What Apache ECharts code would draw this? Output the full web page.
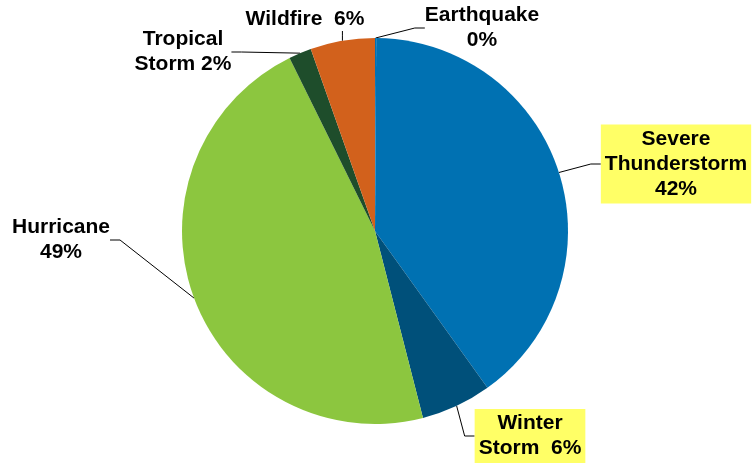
<!DOCTYPE html>
<html>
<head>
<meta charset="utf-8">
<script src="https://cdn.jsdelivr.net/npm/echarts@6/dist/echarts.min.js"></script>
<style>
  html, body { margin: 0; padding: 0; background: #fff; }
  #chart { width: 753px; height: 465px; }
</style>
</head>
<body>
<div id="chart"></div>
<script>
// slices clockwise from 12 o'clock
var categories = ["Earthquake", "Severe Thunderstorm", "Winter Storm", "Hurricane", "Tropical Storm", "Wildfire"];
var shares = [0.1, 40.0, 5.9, 46.7, 1.9, 5.4];           // slice sizes
var labelPct = ["0%", "42%", "6%", "49%", "2%", "6%"];    // printed percentages
var labelText = ["Earthquake\n", "Severe\nThunderstorm\n", "Winter\nStorm  ", "Hurricane\n", "Tropical\nStorm ", "Wildfire  "];

var colors = ["#0071b2", "#0071b2", "#00507a", "#8cc63f", "#1e4d2b", "#d2611c"];
var highlighted = [false, true, true, false, false, false];
// where each label sits (center of the label)
var labelPos = [[482, 28], [676, 164], [530, 436], [61, 240], [183, 52], [305, 19]];

var chart = echarts.init(document.getElementById("chart"));

var data = categories.map(function (name, i) {
    var item = {
        name: name,
        value: shares[i],
        itemStyle: { color: colors[i] },
        label: { formatter: labelText[i] + labelPct[i] }
    };
    if (highlighted[i]) {
        item.label.backgroundColor = "#ffff66";
        item.label.padding = [2, 4, 2, 4];
    }
    return item;
});

chart.setOption({
    animation: false,
    series: [{
        type: "pie",
        center: [375, 231],
        radius: 193,
        startAngle: 90,
        clockwise: true,
        minAngle: 0,
        avoidLabelOverlap: false,
        itemStyle: { borderWidth: 0 },
        label: {
            show: true,
            position: "outside",
            color: "#000",
            fontFamily: "Liberation Sans, Arial, sans-serif",
            fontWeight: "bold",
            fontSize: 21,
            lineHeight: 25,
            align: "center"
        },
        labelLine: {
            show: true,
            length: 12,
            length2: 10,
            lineStyle: { color: "#000", width: 1 }
        },
        labelLayout: function (params) {
            var p = labelPos[params.dataIndex];
            return { x: p[0], y: p[1], align: "center", verticalAlign: "middle" };
        },
        emphasis: { disabled: true },
        data: data
    }]
});

// wildfire's leader runs straight up from the rim to the label
var wildIdx = categories.indexOf("Wildfire");
chart.setOption({
    series: [{
        labelLayout: function (params) {
            var p = labelPos[params.dataIndex];
            var out = { x: p[0], y: p[1], align: "center", verticalAlign: "middle" };
            if (params.dataIndex === wildIdx && params.labelLinePoints) {
                var s = params.labelLinePoints[0];
                var top = p[1] + 12;
                out.labelLinePoints = [[s[0], s[1]], [s[0], (s[1] + top) / 2], [s[0], top]];
            }
            return out;
        }
    }]
});
</script>
</body>
</html>
